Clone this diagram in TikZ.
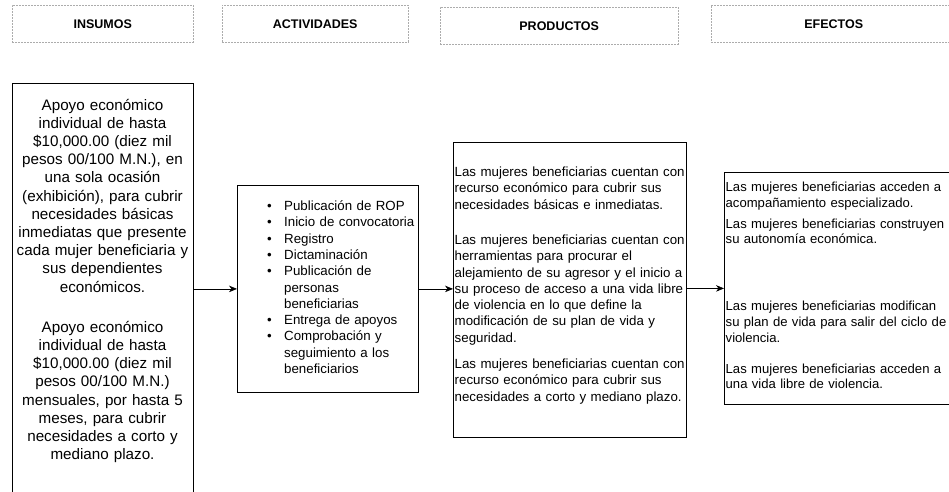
\documentclass[tikz,border=0pt]{standalone}
\usepackage{fontspec}
\setmainfont{Liberation Sans}
\usetikzlibrary{arrows.meta,positioning}

\newcommand{\itm}{\makebox[17pt][l]{\textbullet}}
\newcommand{\sng}{\hspace*{17pt}}

\begin{document}
\begin{tikzpicture}[
x=1pt, y=-1pt,
header/.style={
rectangle,
draw=gray!65,
dash pattern=on 2pt off 1pt,
thin,
minimum height=37pt,
font=\fontsize{12.5}{15}\selectfont\bfseries,
anchor=north west
},
box/.style={
rectangle,
draw,
line width=0.8pt,
anchor=north west
},
txt/.style={
inner sep=0pt,
font=\fontsize{13.3}{16.3}\selectfont,
align=left
},
arrow/.style={
-{Stealth[length=8pt,width=6.5pt,inset=2.5pt]},
line width=0.6pt
}
]
\clip (0,0) rectangle (949,491);

% Encabezados
\node[header, minimum width=181pt] (insumos-head) at (12,5) {INSUMOS};
\node[header, minimum width=186pt] (actividades-head) at (222,5) {ACTIVIDADES};
\node[header, minimum width=238pt] (productos-head) at (440,7) {PRODUCTOS};
\node[header, minimum width=245pt] (efectos-head) at (711,5) {EFECTOS};

% Cajas
\node[box, minimum width=181pt, minimum height=440pt] (insumos) at (12,83) {};
\node[box, minimum width=181pt, minimum height=207pt] (actividades) at (237,185) {};
\node[box, minimum width=233pt, minimum height=295pt] (productos) at (453,142) {};
\node[box, minimum width=240pt, minimum height=232pt] (efectos) at (724,172) {};

% Textos
\node[txt, font=\fontsize{15.2}{18.2}\selectfont, align=center, text width=181pt, anchor=base] (insumos-txt) at (102.5,110) {Apoyo económico\\ individual de hasta\\ \$10,000.00 (diez mil\\ pesos 00/100 M.N.), en\\ una sola ocasión\\ (exhibición), para cubrir\\ necesidades básicas\\ inmediatas que presente\\ cada mujer beneficiaria y\\ sus dependientes\\ económicos.\\[22pt] Apoyo económico\\ individual de hasta\\ \$10,000.00 (diez mil\\ pesos 00/100 M.N.)\\ mensuales, por hasta 5\\ meses, para cubrir\\ necesidades a corto y\\ mediano plazo.};
\node[txt, text width=160pt, anchor=base west] (actividades-txt) at (267,210.5) {\itm Publicación de ROP\\ \itm Inicio de convocatoria\\ \itm Registro\\ \itm Dictaminación\\ \itm Publicación de\\ \sng personas\\ \sng beneficiarias\\ \itm Entrega de apoyos\\ \itm Comprobación y\\ \sng seguimiento a los\\ \sng beneficiarios};
\node[txt, text width=250pt, anchor=base west] (productos-txt) at (454.5,176.5) {Las mujeres beneficiarias cuentan con\\ recurso económico para cubrir sus\\ necesidades básicas e inmediatas.\\[19pt] Las mujeres beneficiarias cuentan con\\ herramientas para procurar el\\ alejamiento de su agresor y el inicio a\\ su proceso de acceso a una vida libre\\ de violencia en lo que define la\\ modificación de su plan de vida y\\ seguridad.\\[10pt] Las mujeres beneficiarias cuentan con\\ recurso económico para cubrir sus\\ necesidades a corto y mediano plazo.};
\node[txt, font=\fontsize{13.1}{15.8}\selectfont, text width=250pt, anchor=base west] (efectos-txt) at (725.5,191.5) {Las mujeres beneficiarias acceden a\\ acompañamiento especializado.\\[5pt] Las mujeres beneficiarias construyen\\ su autonomía económica.\\[51pt] Las mujeres beneficiarias modifican\\ su plan de vida para salir del ciclo de\\ violencia.\\[15pt] Las mujeres beneficiarias acceden a\\ una vida libre de violencia.};

% Flechas
\draw[arrow] (insumos.east |- actividades.west) -- (actividades.west);
\draw[arrow] (actividades.east) -- (productos.west |- actividades.east);
\draw[arrow] (productos.east |- efectos.west) -- (efectos.west);
\end{tikzpicture}
\end{document}
